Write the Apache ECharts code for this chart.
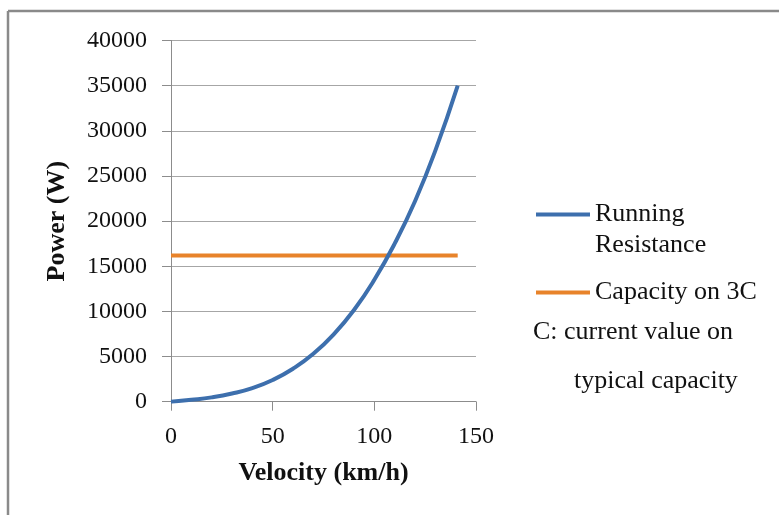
<!DOCTYPE html>
<html>
<head>
<meta charset="utf-8">
<title>Power vs Velocity</title>
<script src="https://cdn.jsdelivr.net/npm/echarts@6/dist/echarts.min.js"></script>
<style>
  html, body { margin: 0; padding: 0; background: #fff; }
  #chart { width: 779px; height: 515px; }
</style>
</head>
<body>
<div id="chart"></div>
<script>
// data
var velocity = [0, 10, 20, 30, 40, 50, 60, 70, 80, 90, 100, 110, 120, 130, 141];
var resistancePower = [0, 210, 480, 900, 1500, 2400, 3650, 5300, 7450, 10150, 13500, 17500, 22200, 27800, 35000];
var capacityVelocity = [0, 141];
var capacityPower = [16200, 16200];
var xTicks = [0, 50, 100, 150];
var yTicks = [0, 5000, 10000, 15000, 20000, 25000, 30000, 35000, 40000];
var noteLines = ['C: current value on', 'typical capacity'];

var serif = '"Liberation Serif", "Times New Roman", serif';

function pairs(xs, ys) {
  return xs.map(function (x, i) { return [x, ys[i]]; });
}

var chart = echarts.init(document.getElementById('chart'), null, { renderer: 'canvas' });

var option = {
  backgroundColor: '#fff',
  animation: false,
  textStyle: { fontFamily: serif },
  grid: { left: 171, top: 40.5, right: 303, bottom: 113.3 },
  xAxis: {
    type: 'value',
    min: xTicks[0],
    max: xTicks[xTicks.length - 1],
    interval: xTicks[1] - xTicks[0],
    name: 'Velocity (km/h)',
    nameLocation: 'middle',
    nameGap: 59,
    nameTextStyle: { fontFamily: serif, fontSize: 26, fontWeight: 'bold', color: '#111' },
    axisLine: { show: true, lineStyle: { color: '#8c8c8c', width: 1 } },
    axisTick: { show: true, inside: false, length: 9, lineStyle: { color: '#8c8c8c' } },
    axisLabel: { fontFamily: serif, fontSize: 24, color: '#111', margin: 23 },
    splitLine: { show: false }
  },
  yAxis: {
    type: 'value',
    min: yTicks[0],
    max: yTicks[yTicks.length - 1],
    interval: yTicks[1] - yTicks[0],
    name: 'Power (W)',
    nameLocation: 'middle',
    nameGap: 101,
    nameTextStyle: { fontFamily: serif, fontSize: 26, fontWeight: 'bold', color: '#111' },
    axisLine: { show: true, lineStyle: { color: '#8c8c8c', width: 1 } },
    axisTick: { show: true, inside: false, length: 9, lineStyle: { color: '#8c8c8c' } },
    axisLabel: {
      fontFamily: serif, fontSize: 24, color: '#111', margin: 24,
      formatter: function (v) { return String(v); }
    },
    splitLine: { show: true, lineStyle: { color: '#a6a6a6', width: 1 } }
  },
  legend: {
    orient: 'vertical',
    left: 536,
    top: 168,
    padding: 0,
    itemWidth: 54,
    itemHeight: 4,
    itemGap: 16,
    icon: 'rect',
    textStyle: { fontFamily: serif, fontSize: 26, color: '#111', lineHeight: 31 },
    formatter: function (name) {
      // blank first line keeps the symbol level with "Running"
      return name === 'Running Resistance' ? '\nRunning\nResistance' : name;
    },
    data: ['Running Resistance', 'Capacity on 3C']
  },
  graphic: [
    // outer frame (top and left edges only)
    { type: 'line', shape: { x1: 8, y1: 11, x2: 779, y2: 11 }, style: { stroke: '#8a8a8a', lineWidth: 2.5 } },
    { type: 'line', shape: { x1: 8, y1: 11, x2: 8, y2: 515 }, style: { stroke: '#8a8a8a', lineWidth: 2.5 } },
    { type: 'text', left: 533, top: 319, style: { text: noteLines[0], font: '26px ' + serif, fill: '#111' } },
    { type: 'text', left: 574, top: 368, style: { text: noteLines[1], font: '26px ' + serif, fill: '#111' } }
  ],
  series: [
    {
      name: 'Running Resistance',
      type: 'line',
      smooth: true,
      showSymbol: false,
      data: pairs(velocity, resistancePower),
      lineStyle: { color: '#3d6fad', width: 4 },
      itemStyle: { color: '#3d6fad' },
      z: 3
    },
    {
      name: 'Capacity on 3C',
      type: 'line',
      showSymbol: false,
      data: pairs(capacityVelocity, capacityPower),
      lineStyle: { color: '#e8832a', width: 4 },
      itemStyle: { color: '#e8832a' },
      z: 2
    }
  ]
};

chart.setOption(option);
</script>
</body>
</html>
